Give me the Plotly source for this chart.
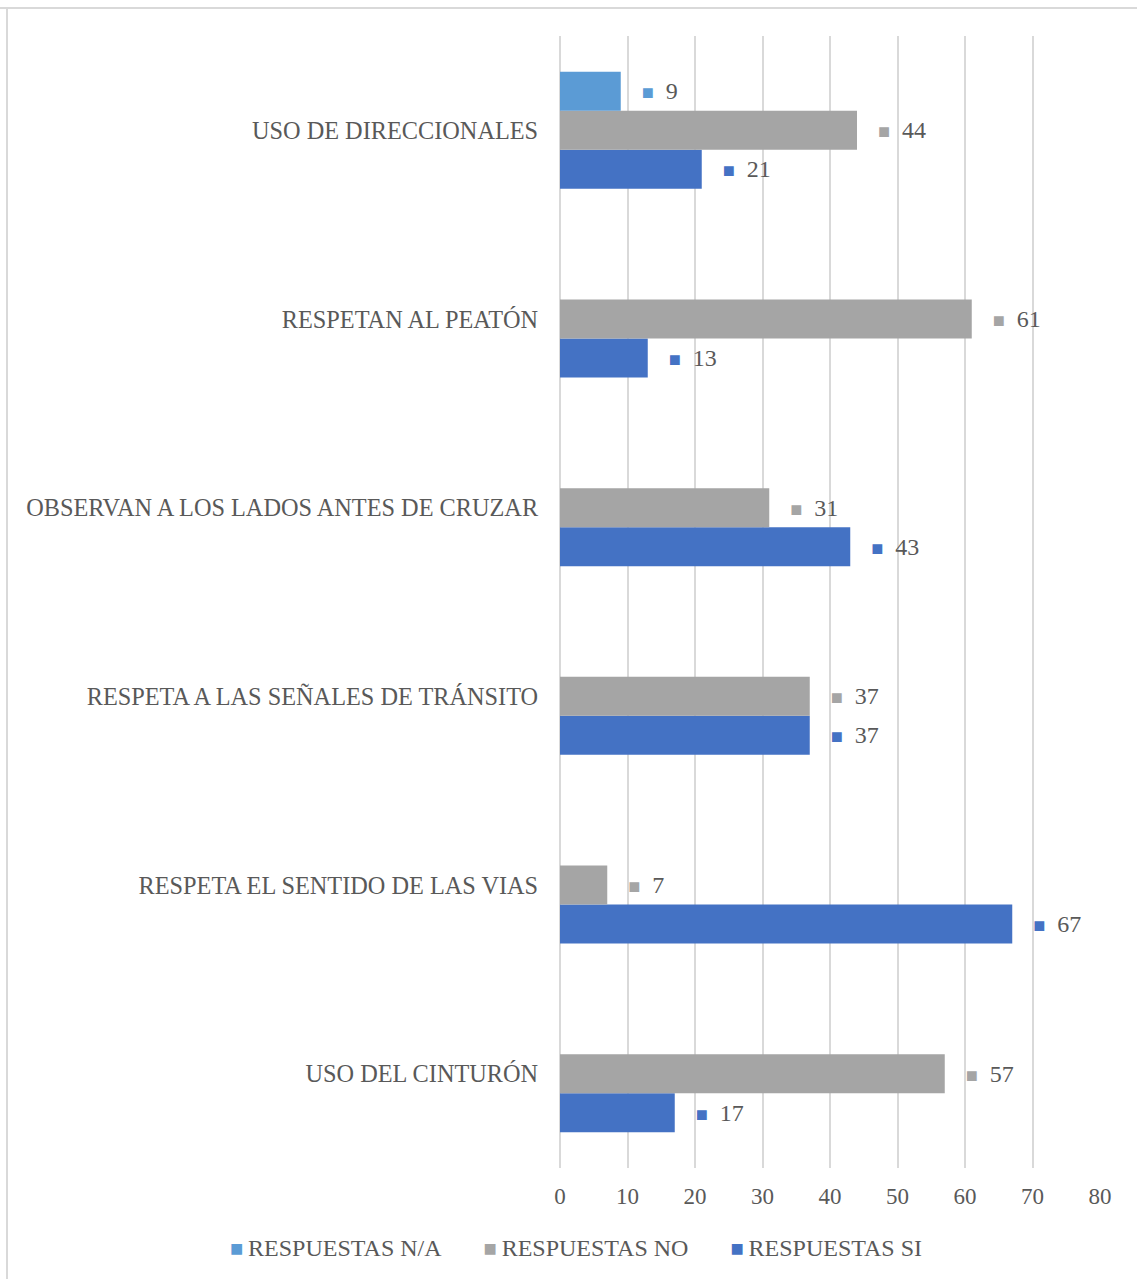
import plotly.graph_objects as go

# Survey categories (bottom to top as drawn)
categories = [
    "USO DEL CINTURÓN",
    "RESPETA EL SENTIDO DE LAS VIAS",
    "RESPETA A LAS SEÑALES DE TRÁNSITO",
    "OBSERVAN A LOS LADOS ANTES DE CRUZAR",
    "RESPETAN AL PEATÓN",
    "USO DE DIRECCIONALES",
]
respuestas_si = [17, 67, 37, 43, 13, 21]
respuestas_no = [57, 7, 37, 31, 61, 44]
respuestas_na = [None, None, None, None, None, 9]

x_ticks = [0, 10, 20, 30, 40, 50, 60, 70, 80]

FONT = "Liberation Serif, Times New Roman, serif"
TEXT_COLOR = "#595959"
GRID = "#D9D9D9"

series = [
    ("RESPUESTAS SI", respuestas_si, "#4472C4"),
    ("RESPUESTAS NO", respuestas_no, "#A5A5A5"),
    ("RESPUESTAS N/A", respuestas_na, "#5B9BD5"),
]

NB = "\u00a0"

fig = go.Figure()
for name, vals, color in series:
    labels = [
        "" if v is None else
        NB * 3 + "<span style='color:%s;font-size:20px'>■</span>%s%d" % (color, NB * 2, v)
        for v in vals
    ]
    fig.add_trace(go.Bar(
        name=name,
        y=categories,
        x=vals,
        orientation="h",
        marker=dict(color=color, line=dict(width=0)),
        text=labels,
        texttemplate="%{text}",
        textposition="outside",
        constraintext="none",
        cliponaxis=False,
        textfont=dict(family=FONT, size=24, color=TEXT_COLOR),
        hoverinfo="x+name",
        showlegend=False,
    ))

# Legend row drawn as a single line of text, keys in series colours (N/A, NO, SI)
legend_items = []
for name, _, color in reversed(series):
    legend_items.append(
        "<span style='color:%s;font-size:22px'>■</span>\u2009%s" % (color, name)
    )
legend_text = (NB * 7).join(legend_items)

fig.update_layout(
    width=1137,
    height=1279,
    barmode="group",
    bargap=0.38,
    bargroupgap=0,
    plot_bgcolor="white",
    paper_bgcolor="white",
    margin=dict(l=560, r=37, t=36, b=111),
    font=dict(family=FONT, size=22, color=TEXT_COLOR),
    showlegend=False,
    xaxis=dict(
        range=[0, 80],
        tickvals=x_ticks,
        showgrid=True,
        gridcolor=GRID,
        gridwidth=2,
        zeroline=True,
        zerolinecolor=GRID,
        zerolinewidth=2,
        showline=False,
        ticks="outside",
        ticklen=7,
        tickcolor="rgba(0,0,0,0)",
        tickfont=dict(family=FONT, size=23, color=TEXT_COLOR),
        fixedrange=True,
    ),
    yaxis=dict(
        categoryorder="array",
        categoryarray=categories,
        showgrid=False,
        showline=False,
        ticks="outside",
        ticklen=16,
        tickcolor="rgba(0,0,0,0)",
        tickfont=dict(family=FONT, size=24.3, color=TEXT_COLOR),
        fixedrange=True,
    ),
    annotations=[
        dict(
            text=legend_text,
            xref="paper", yref="paper",
            x=(576 - 560) / 540, y=-(1248 - 1168) / 1132,
            xanchor="center", yanchor="middle",
            showarrow=False,
            font=dict(family=FONT, size=24, color=TEXT_COLOR),
        )
    ],
    shapes=[
        dict(type="line", xref="paper", yref="paper", x0=-560 / 540, x1=1.1, y0=1 + 28 / 1132, y1=1 + 28 / 1132,
             line=dict(color=GRID, width=2)),
        dict(type="line", xref="paper", yref="paper", x0=-553 / 540, x1=-553 / 540, y0=-1.2, y1=1 + 28 / 1132,
             line=dict(color=GRID, width=2)),
    ],
)

fig.write_html("out.html")
